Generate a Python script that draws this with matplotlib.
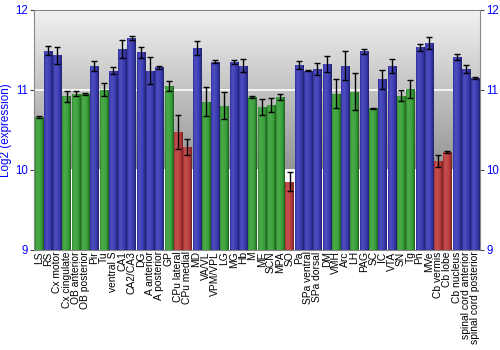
import numpy as np
import matplotlib
matplotlib.use("Agg")
import matplotlib.pyplot as plt
import matplotlib.colors as mcolors

categories = ["LS", "RS", "Cx motor", "Cx cingulate", "OB anterior", "OB posterior", "Pir", "Tu",
              "ventral S", "CA1", "CA2/CA3", "DG", "A anterior", "A posterior", "GP", "CPu lateral",
              "CPu medial", "MD", "VA/VL", "VPM/VPL", "LG", "MG", "Hb", "M", "ME", "SCN", "MPA", "SO",
              "Pa", "SPa ventral", "SPa dorsal", "DM", "VMH", "Arc", "LH", "PAG", "SC", "IC", "VTA",
              "SN", "Tg", "Pn", "MVe", "Cb vermis", "Cb lobe", "Cb nucleus", "spinal cord anterior",
              "spinal cord posterior"]
values = [10.66, 11.49, 11.43, 10.92, 10.95, 10.95, 11.30, 11.00,
          11.24, 11.51, 11.65, 11.47, 11.24, 11.28, 11.05, 10.47,
          10.29, 11.52, 10.85, 11.35, 10.80, 11.35, 11.30, 10.91, 10.78, 10.81, 10.91, 9.85,
          11.31, 11.24, 11.26, 11.32, 10.95, 11.30, 10.975, 11.48, 10.77, 11.13, 11.30,
          10.925, 11.01, 11.53, 11.59, 10.11, 10.22, 11.41, 11.26, 11.15]
errors = [0.01, 0.06, 0.11, 0.07, 0.03, 0.01, 0.06, 0.08,
          0.04, 0.11, 0.025, 0.07, 0.17, 0.02, 0.065, 0.21,
          0.10, 0.09, 0.18, 0.02, 0.17, 0.025, 0.08, 0.01, 0.10, 0.085, 0.033, 0.12,
          0.055, 0.01, 0.077, 0.10, 0.18, 0.18, 0.23, 0.035, 0.005, 0.12, 0.09,
          0.07, 0.11, 0.045, 0.075, 0.08, 0.01, 0.033, 0.045, 0.01]
groups = ["g", "b", "b", "g", "g", "g", "b", "g",
          "b", "b", "b", "b", "b", "b", "g", "r",
          "r", "b", "g", "b", "g", "b", "b", "g", "g", "g", "g", "r",
          "b", "b", "b", "b", "g", "b", "g", "b", "g", "b", "b",
          "g", "g", "b", "b", "r", "r", "b", "b", "b"]

base_colors = {"g": "#38a038", "b": "#3a3ab4", "r": "#bc3c3c"}

plt.rcParams['font.family'] = ['Liberation Sans', 'DejaVu Sans']

fig = plt.figure(figsize=(5, 3.5), dpi=100)
ax = fig.add_axes([0.068, 0.286, 0.892, 0.686])

ymin, ymax = 9, 12
n = len(categories)
x = np.arange(n)
ax.set_xlim(-0.5, n - 0.5)
ax.set_ylim(ymin, ymax)

# background gradient
bg = np.ones((300, 1, 3))
yy = np.linspace(ymax, ymin, 300)
for i, yv in enumerate(yy):
    if yv >= 10:
        t = (ymax - yv) / 2.0
        g = 0.95 - t * (0.95 - 0.58)
    else:
        g = 1.0
    bg[i, 0, :] = g
ax.imshow(bg, extent=[-0.5, n - 0.5, ymin, ymax], aspect='auto', zorder=0, interpolation='bilinear')

for yv in [10, 11]:
    ax.axhline(yv, color='white', lw=1.2, zorder=1)

width = 0.88
bars = ax.bar(x, np.array(values) - ymin, bottom=ymin, width=width, zorder=2,
              color=[base_colors[g] for g in groups], edgecolor='none')

prof = np.linspace(0, 1, 40)
shade = np.interp(prof, [0, 0.12, 0.35, 0.7, 0.9, 1.0], [0.8, 1.08, 1.12, 1.0, 0.75, 0.55])
for rect, g in zip(bars, groups):
    c = np.array(mcolors.to_rgb(base_colors[g]))
    arr = np.zeros((1, len(prof), 3))
    for j, s in enumerate(shade):
        if s <= 1:
            col = c * s
        else:
            col = c + (1 - c) * (s - 1) * 0.8
        arr[0, j, :] = np.clip(col, 0, 1)
    x0 = rect.get_x()
    x1 = x0 + rect.get_width()
    im = ax.imshow(arr, extent=[x0, x1, ymin, rect.get_y() + rect.get_height()],
                   aspect='auto', zorder=3, interpolation='bilinear')
    im.set_clip_path(rect)

ax.errorbar(x, values, yerr=errors, fmt='none', ecolor='black', elinewidth=1,
            capsize=2, capthick=1, zorder=4)

ax.set_xlim(-0.5, n - 0.5)
ax.set_ylim(ymin, ymax)
ax.set_yticks([9, 10, 11, 12])
ax.set_yticklabels(["9", "10", "11", "12"])
ax.tick_params(axis='y', colors='#444444', labelcolor='#0000ff', labelsize=8.3,
               left=True, right=True, labelleft=True, labelright=True, length=3,
               direction='out', pad=1.5)
ax.set_xticks(x)
ax.set_xticklabels(categories, rotation=90, fontsize=7.4)
ax.tick_params(axis='x', length=0, pad=1)
for sp in ax.spines.values():
    sp.set_color('#888888')
    sp.set_linewidth(0.8)

ax.set_ylabel("Log2 (expression)", color='#0000ff', fontsize=8.4)
ax.yaxis.set_label_coords(-0.05, 0.5)

fig.savefig("out.png", dpi=100)
